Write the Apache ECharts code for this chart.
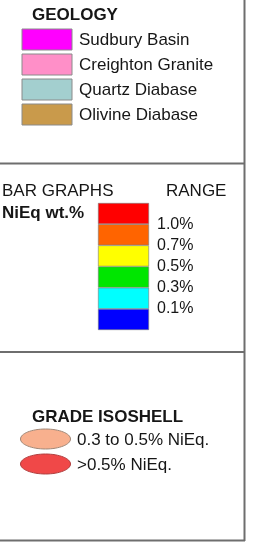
<!DOCTYPE html>
<html>
<head>
<meta charset="utf-8">
<script src="https://cdn.jsdelivr.net/npm/echarts@6/dist/echarts.min.js"></script>
<style>
  html, body { margin: 0; padding: 0; background: #fff; }
  #chartdiv { width: 267px; height: 543px; }
</style>
</head>
<body>
<div id="chartdiv"></div>
<script>
// geology units
var geoNames = ['Sudbury Basin', 'Creighton Granite', 'Quartz Diabase', 'Olivine Diabase'];
var geoColors = ['#ff00ff', '#ff8fc8', '#a3cfcf', '#c99a4b'];

// bar graph ranges, bottom to top
var rangeLabels = ['0.1%', '0.3%', '0.5%', '0.7%', '1.0%'];
var rangeColors = ['#0000ff', '#00ffff', '#00e600', '#ffff00', '#ff6400', '#ff0000'];
var rangeSteps = [1, 1, 1, 1, 1, 1];

// grade isoshells
var shellNames = ['0.3 to 0.5% NiEq.', '>0.5% NiEq.'];
var shellColors = ['#f8b08e', '#f04848'];
var shellStrokes = ['#a08878', '#b04040'];

var font = 'Liberation Sans, Arial, sans-serif';
var txtColor = '#161616';
var lineColor = '#6e6e6e';

var chart = echarts.init(document.getElementById('chartdiv'));

var graphics = [];
// frame lines
graphics.push({ type: 'line', shape: { x1: 244.5, y1: 0, x2: 244.5, y2: 541 }, style: { stroke: lineColor, lineWidth: 2 } });
graphics.push({ type: 'line', shape: { x1: 0, y1: 163.5, x2: 245, y2: 163.5 }, style: { stroke: lineColor, lineWidth: 2 } });
graphics.push({ type: 'line', shape: { x1: 0, y1: 352, x2: 245, y2: 352 }, style: { stroke: lineColor, lineWidth: 2 } });
graphics.push({ type: 'line', shape: { x1: 0, y1: 540.5, x2: 245, y2: 540.5 }, style: { stroke: lineColor, lineWidth: 2 } });

// geology section
graphics.push({ type: 'text', x: 32, y: 15, style: { text: 'GEOLOGY', font: 'bold 17px ' + font, fill: txtColor, verticalAlign: 'middle' } });
for (var i = 0; i < geoNames.length; i++) {
    var y = 29 + i * 25;
    graphics.push({ type: 'rect', shape: { x: 22, y: y, width: 50, height: 21 },
        style: { fill: geoColors[i], stroke: '#8a8a8a', lineWidth: 1 } });
    graphics.push({ type: 'text', x: 79, y: y + 11, style: { text: geoNames[i], font: '17px ' + font,
        fill: txtColor, verticalAlign: 'middle' } });
}

// bar graph section
graphics.push({ type: 'text', x: 2, y: 191, style: { text: 'BAR GRAPHS', font: '17px ' + font, fill: txtColor, verticalAlign: 'middle' } });
graphics.push({ type: 'text', x: 166, y: 191, style: { text: 'RANGE', font: '17px ' + font, fill: txtColor, verticalAlign: 'middle' } });
graphics.push({ type: 'text', x: 2, y: 213, style: { text: 'NiEq wt.%', font: 'bold 17px ' + font, fill: txtColor, verticalAlign: 'middle' } });

// isoshell section
graphics.push({ type: 'text', x: 32, y: 417, style: { text: 'GRADE ISOSHELL', font: 'bold 17px ' + font, fill: txtColor, verticalAlign: 'middle' } });
for (var j = 0; j < shellNames.length; j++) {
    var cy = 439 + j * 25;
    graphics.push({ type: 'ellipse', shape: { cx: 45.5, cy: cy, rx: 25, ry: 10 },
        style: { fill: shellColors[j], stroke: shellStrokes[j], lineWidth: 1 } });
    graphics.push({ type: 'text', x: 77, y: cy + 1, style: { text: shellNames[j], font: '17px ' + font,
        fill: txtColor, verticalAlign: 'middle' } });
}

var series = [];
for (var k = 0; k < rangeColors.length; k++) {
    series.push({
        type: 'bar',
        stack: 'range',
        barWidth: '100%',
        silent: true,
        itemStyle: { color: rangeColors[k], borderColor: '#7a7a7a', borderWidth: 0.6 },
        data: [rangeSteps[k]]
    });
}

var option = {
    animation: false,
    grid: { left: 98, top: 203, width: 51, height: 127 },
    xAxis: { type: 'category', data: [''], show: false },
    yAxis: {
        type: 'value',
        position: 'right',
        min: 0,
        max: 6,
        interval: 1,
        axisLine: { show: false },
        axisTick: { show: false },
        splitLine: { show: false },
        axisLabel: {
            margin: 8,
            fontSize: 16,
            fontFamily: font,
            color: txtColor,
            formatter: function (v) {
                return (v >= 1 && v <= 5) ? rangeLabels[v - 1] : '';
            }
        }
    },
    graphic: graphics,
    series: series
};
chart.setOption(option);
</script>
</body>
</html>
